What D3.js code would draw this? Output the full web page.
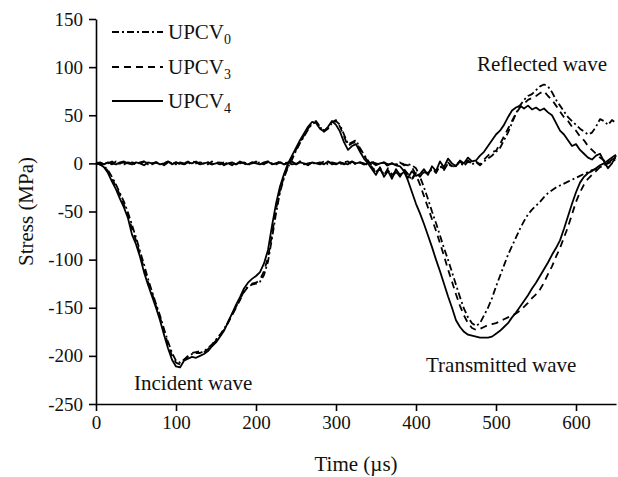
<!DOCTYPE html>
<html>
<head>
<meta charset="utf-8">
<script src="https://cdnjs.cloudflare.com/ajax/libs/d3/7.8.5/d3.min.js"></script>
<style>
  body { margin: 0; background: #fff; }
  svg { font-family: "Liberation Serif", "Times New Roman", serif; }
</style>
</head>
<body>
<div id="chart"></div>
<script>
// time axis, one sample every 5 us
var time = d3.range(0, 651, 5);

var xTicks = [0, 100, 200, 300, 400, 500, 600];
var yTicks = [-250, -200, -150, -100, -50, 0, 50, 100, 150];

// incident + reflected signal (input bar)
var incident0 = [
  0, -1, -3, -7, -14, -22, -31, -40, -51, -64,
  -77, -91, -105, -120, -133, -146, -158, -172, -185, -197,
  -205, -207, -204, -201, -198, -197, -197, -195, -192, -188,
  -183, -178, -172, -165, -157, -149, -141, -133, -128, -126,
  -125, -123, -116, -102, -78, -52, -30, -15, -4, 4,
  13, 21, 28, 35, 41, 43, 38, 33, 36, 42,
  44, 40, 30, 20, 22, 24, 16, 9, 3, -3,
  -9, -5, -12, -7, -14, -9, -13, -7, -12, -17,
  -10, -13, -9, -11, -6, -9, -3, -7, 0, -4,
  -2, 1, -3, 2, -1, 1, -2, 2, 5, 8,
  12, 16, 24, 32, 42, 52, 60, 66, 70, 72,
  76, 80, 82, 80, 74, 66, 60, 54, 48, 44,
  40, 36, 33, 30, 32, 38, 46, 44, 40, 45,
  42
];
var incident3 = [
  0, -1, -3, -8, -16, -24, -33, -43, -54, -68,
  -80, -94, -109, -123, -135, -148, -160, -174, -188, -200,
  -207, -209, -204, -200, -197, -196, -195, -196, -193, -189,
  -184, -179, -173, -166, -158, -150, -142, -134, -128, -125,
  -124, -121, -112, -98, -74, -48, -28, -14, -3, 6,
  14, 22, 29, 36, 42, 44, 38, 34, 37, 43,
  45, 38, 28, 18, 21, 22, 15, 8, 2, -4,
  -10, -6, -13, -5, -12, -8, -14, -6, -11, -16,
  -9, -14, -8, -10, -5, -10, -2, -6, 1, -3,
  -1, 2, -2, 3, 0, 2, -1, 4, 8, 12,
  13, 20, 28, 36, 44, 52, 58, 62, 66, 68,
  70, 73, 75, 70, 66, 60, 54, 48, 44, 38,
  34, 28, 24, 18, 14, 10, 6, 3, 0, 4,
  6
];
var incident4 = [
  0, -1, -4, -10, -19, -27, -37, -46, -57, -74,
  -84, -97, -113, -126, -138, -150, -163, -178, -192, -204,
  -211, -212, -205, -203, -201, -202, -200, -198, -195, -190,
  -186, -180, -174, -165, -156, -147, -139, -130, -124, -120,
  -117, -113, -104, -90, -65, -42, -24, -11, 0, 8,
  16, 24, 31, 38, 43, 42, 36, 33, 38, 44,
  40, 33, 22, 14, 18, 20, 12, 5, 0, -6,
  -12, -4, -14, -8, -16, -6, -12, -9, -15, -8,
  -13, -11, -6, -12, -3, -8, 2, -4, 5, 0,
  -3, 3, 0, 6, 2, 3, 8, 12, 18, 24,
  30, 34, 40, 48, 55, 58, 60, 57, 60, 56,
  58, 55, 57, 53, 50, 42, 34, 30, 24, 18,
  20, 14, 10, 6, 4, 8, 10, 2, -5, 0,
  8
];

// transmitted signal (output bar)
var transmitted0 = [
  0, -1, 1, 0, -1, 2, 0, -1, 1, 0,
  -1, 1, 2, -1, 0, 1, -1, 0, 2, 0,
  -1, 1, 0, -1, 2, 1, -1, 0, 1, -1,
  0, 2, -1, 1, 0, -1, 1, 0, -2, 1,
  0, 1, -1, 2, 0, -1, 1, 0, 1, -1,
  0, 2, -1, 0, 1, -1, 0, 2, -1, 1,
  0, -1, 1, 2, -1, 0, 1, -1, 0, 2,
  -1, 0, 1, -2, 0, -1, 1, -2, -1, -2,
  -5, -14, -25, -37, -50, -62, -75, -88, -100, -113,
  -126, -139, -151, -160, -166, -169, -166, -158, -150, -140,
  -128, -117, -106, -95, -86, -77, -68, -60, -53, -48,
  -44, -40, -35, -31, -28, -25, -23, -21, -19, -17,
  -15, -13, -11, -9, -7, -6, -4, -2, 0, 2,
  4
];
var transmitted3 = [
  1, 0, -1, 0, 2, -1, 0, 1, -1, 1,
  0, -1, 2, 0, -1, 1, 0, -2, 1, 0,
  1, -1, 0, 2, -1, 0, 1, 0, -1, 2,
  0, -1, 1, 0, -2, 1, 0, 1, -1, 0,
  2, -1, 0, 1, -1, 0, 2, -1, 1, 0,
  -1, 2, 0, -1, 1, 0, -1, 1, 2, -1,
  0, 1, -1, 0, 2, -1, 1, 0, -2, 1,
  0, -1, 1, -3, 0, -2, 1, -1, -2, -4,
  -12, -22, -34, -46, -58, -70, -83, -96, -110, -123,
  -136, -148, -158, -166, -171, -173, -172, -170, -168, -167,
  -166, -164, -162, -160, -158, -156, -153, -149, -145, -140,
  -136, -131, -124, -115, -107, -97, -88, -77, -66, -53,
  -40, -30, -22, -16, -12, -8, -4, -2, 1, 3,
  5
];
var transmitted4 = [
  0, 1, -1, 1, 0, -1, 1, 2, 0, -1,
  1, 0, -2, 1, 0, 1, -1, 0, 2, -1,
  1, 0, -1, 1, 0, 2, -1, 0, 1, -1,
  0, 1, -2, 0, 1, -1, 2, 0, -1, 1,
  0, -1, 1, 2, -1, 0, 1, -1, 0, 2,
  -1, 1, 0, -2, 1, 0, 1, -1, 2, 0,
  -1, 1, 0, -1, 2, 0, 1, -1, 0, 1,
  -2, 0, 1, -1, 0, -2, -3, -8, -18, -30,
  -42, -52, -63, -75, -87, -100, -112, -125, -138, -150,
  -163, -170, -175, -178, -179, -180, -181, -181, -181, -180,
  -177, -174, -170, -166, -160, -155, -149, -143, -137, -130,
  -124, -117, -110, -103, -95, -88, -80, -68, -55, -42,
  -30, -20, -14, -10, -8, -5, -2, 0, 3, 6,
  9
];

var seriesNames = ['UPCV0', 'UPCV3', 'UPCV4'];
var dashes = ['7,3,2,3', '7,5', null];

var width = 618, height = 477;
var svg = d3.select('#chart').append('svg')
  .attr('width', width)
  .attr('height', height);

var x = d3.scaleLinear().domain([0, 650]).range([96, 616]);
var y = d3.scaleLinear().domain([-250, 150]).range([404, 19]);

// plain hyphen for negatives, like the original figure
var fmt = function (d) { return String(d); };

// axes
var xAxis = svg.append('g')
  .attr('transform', 'translate(0,' + y(-250) + ')')
  .call(d3.axisBottom(x).tickValues(xTicks).tickFormat(fmt).tickSize(7).tickPadding(5).tickSizeOuter(0));
var yAxis = svg.append('g')
  .attr('transform', 'translate(' + x(0) + ',0)')
  .call(d3.axisLeft(y).tickValues(yTicks).tickFormat(fmt).tickSize(7).tickPadding(6).tickSizeOuter(0));

[xAxis, yAxis].forEach(function (g) {
  g.select('.domain').attr('stroke', '#000').attr('stroke-width', 1.6);
  g.selectAll('.tick line').attr('stroke', '#000').attr('stroke-width', 1.6);
  g.selectAll('.tick text')
    .attr('fill', '#111')
    .style('font-family', '"Liberation Serif", serif')
    .style('font-size', '19px');
});

svg.append('text')
  .attr('x', (x(0) + x(650)) / 2)
  .attr('y', 471)
  .attr('text-anchor', 'middle')
  .style('font-size', '21px')
  .attr('fill', '#111')
  .text('Time (\u00b5s)');

svg.append('text')
  .attr('transform', 'translate(33,' + (y(-250) + y(150)) / 2 + ') rotate(-90)')
  .attr('text-anchor', 'middle')
  .style('font-size', '21px')
  .attr('fill', '#111')
  .text('Stress (MPa)');

// curves
var line = d3.line()
  .x(function (d, i) { return x(time[i]); })
  .y(function (d) { return y(d); });

var curves = [
  { data: incident0, k: 0 }, { data: transmitted0, k: 0 },
  { data: incident3, k: 1 }, { data: transmitted3, k: 1 },
  { data: incident4, k: 2 }, { data: transmitted4, k: 2 }
];

svg.append('g').selectAll('path')
  .data(curves).enter()
  .append('path')
  .attr('d', function (c) { return line(c.data); })
  .attr('fill', 'none')
  .attr('stroke', '#000')
  .attr('stroke-width', 1.8)
  .attr('stroke-linejoin', 'round')
  .attr('stroke-dasharray', function (c) { return dashes[c.k]; });

// legend
var legendY = [32, 67, 101];
var legend = svg.append('g').selectAll('g')
  .data(seriesNames).enter()
  .append('g')
  .attr('transform', function (d, i) { return 'translate(0,' + legendY[i] + ')'; });

legend.append('line')
  .attr('x1', 112).attr('x2', 163)
  .attr('stroke', '#000')
  .attr('stroke-width', 1.8)
  .attr('stroke-dasharray', function (d, i) { return dashes[i]; });

var lt = legend.append('text')
  .attr('x', 168)
  .attr('y', 7)
  .style('font-size', '21px')
  .attr('fill', '#111');
lt.append('tspan').text('UPCV');
lt.append('tspan')
  .attr('dy', 5)
  .style('font-size', '14px')
  .text(function (d) { return d.slice(4); });

// wave labels
var notes = [
  { text: 'Reflected wave', x: 477, y: 71 },
  { text: 'Transmitted wave', x: 426, y: 372 },
  { text: 'Incident wave', x: 134, y: 390 }
];
svg.append('g').selectAll('text')
  .data(notes).enter()
  .append('text')
  .attr('x', function (d) { return d.x; })
  .attr('y', function (d) { return d.y; })
  .style('font-size', '21px')
  .attr('fill', '#111')
  .text(function (d) { return d.text; });
</script>
</body>
</html>
